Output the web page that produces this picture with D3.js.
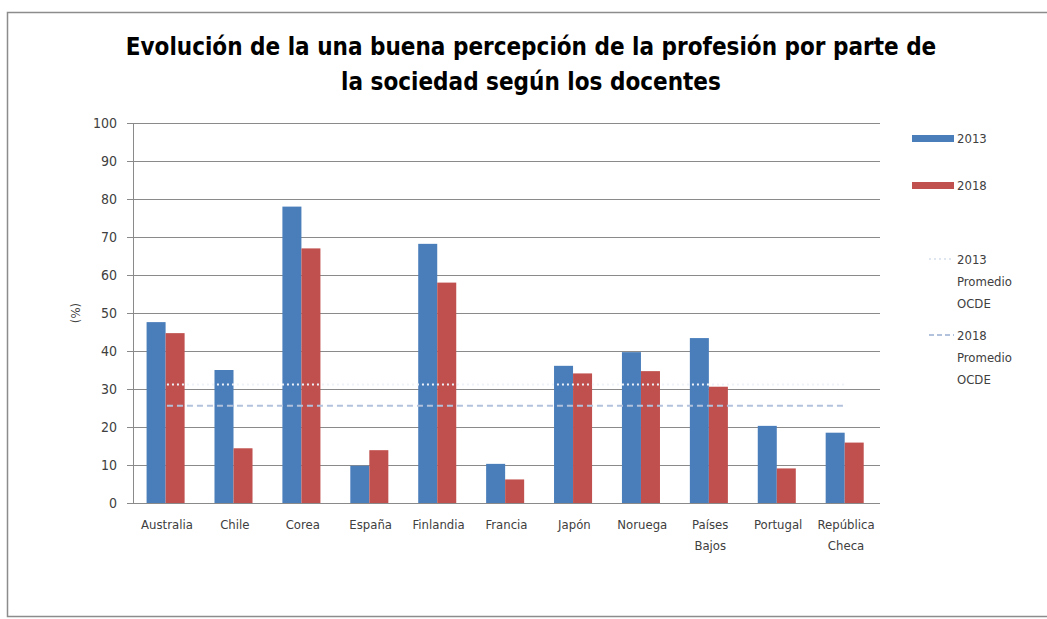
<!DOCTYPE html>
<html>
<head>
<meta charset="utf-8">
<script src="https://cdn.jsdelivr.net/npm/d3@7"></script>
<style>
  body { margin: 0; background: #fff; }
  text { font-family: "Liberation Sans Narrow", "DejaVu Sans Condensed", "Open Sans", sans-serif; }
</style>
</head>
<body>
<div id="chart"></div>
<script>
var countries = ['Australia', 'Chile', 'Corea', 'España', 'Finlandia', 'Francia', 'Japón', 'Noruega', 'Países Bajos', 'Portugal', 'República Checa'];
var values2013 = [47.6, 35.0, 78.0, 9.8, 68.2, 10.3, 36.1, 39.7, 43.4, 20.3, 18.5];
var values2018 = [44.7, 14.4, 67.0, 13.9, 58.0, 6.2, 34.1, 34.7, 30.6, 9.1, 15.9];
var avg2013 = 31.2;
var avg2018 = 25.6;
var yTicks = [0, 10, 20, 30, 40, 50, 60, 70, 80, 90, 100];
var seriesNames = ['2013', '2018'];
var titleLines = ['Evolución de la una buena percepción de la profesión por parte de', 'la sociedad según los docentes'];

var W = 1047, H = 619;
var margin = { top: 123, left: 133, bottom: 116, right: 167 },
    width = W - margin.left - margin.right,
    height = H - margin.top - margin.bottom;

var svgRoot = d3.select('#chart').append('svg')
    .attr('width', W)
    .attr('height', H);

// outer frame
svgRoot.append('rect')
    .attr('x', 7.5).attr('y', 12.5)
    .attr('width', W).attr('height', 604)
    .attr('fill', 'none')
    .attr('stroke', '#8c8c8c')
    .attr('stroke-width', 1.5);

// title
svgRoot.selectAll('.title')
    .data(titleLines)
    .enter()
    .append('text')
    .attr('class', 'title')
    .attr('x', 531)
    .attr('y', (d, i) => 55 + i * 35)
    .attr('text-anchor', 'middle')
    .attr('font-size', 24)
    .attr('font-weight', 'bold')
    .attr('fill', '#000')
    .text(d => d);

var svg = svgRoot.append('g')
    .attr('transform', 'translate(' + margin.left + ', ' + margin.top + ')');

var x0 = d3.scaleBand()
    .domain(countries)
    .range([0, width]);

var x1 = d3.scaleBand()
    .domain(seriesNames)
    .range([x0.bandwidth() * 0.2, x0.bandwidth() * 0.76]);

var y = d3.scaleLinear()
    .domain([0, 100])
    .range([height, 0]);

// grid
var yAxis = d3.axisLeft(y)
    .tickValues(yTicks)
    .tickSize(-width - 6)
    .tickPadding(10)
    .tickFormat(d3.format('d'));

var gy = svg.append('g')
    .attr('transform', 'translate(-6,0)')
    .call(yAxis);
gy.select('.domain').remove();
gy.selectAll('line').attr('stroke', '#8a8a8a').attr('stroke-width', 1);
gy.selectAll('text')
    .attr('font-size', 14)
    .attr('fill', '#404040')
    .attr('font-family', '"Liberation Sans Narrow", "DejaVu Sans Condensed", sans-serif');

// vertical axis line
svg.append('line')
    .attr('x1', 0.5).attr('x2', 0.5)
    .attr('y1', 0).attr('y2', height)
    .attr('stroke', '#8a8a8a');

var colors = { '2013': '#4a7ebb', '2018': '#c0504d' };
var rows = countries.map((c, i) => ({ c: c, v: { '2013': values2013[i], '2018': values2018[i] } }));

var groups = svg.selectAll('.grp')
    .data(rows)
    .enter()
    .append('g')
    .attr('class', 'grp')
    .attr('transform', d => 'translate(' + x0(d.c) + ',0)');

groups.selectAll('rect')
    .data(d => seriesNames.map(s => ({ s: s, v: d.v[s] })))
    .enter()
    .append('rect')
    .attr('x', d => x1(d.s))
    .attr('y', d => y(d.v))
    .attr('width', x1.bandwidth())
    .attr('height', d => height - y(d.v))
    .attr('fill', d => colors[d.s]);

// OECD averages
var xFirst = x0(countries[0]) + x0.bandwidth() / 2;
var xLast = x0(countries[countries.length - 1]) + x0.bandwidth() / 2;

svg.append('line')
    .attr('x1', xFirst).attr('x2', xLast)
    .attr('y1', y(avg2013)).attr('y2', y(avg2013))
    .attr('stroke', '#eef3fa')
    .attr('stroke-width', 2)
    .attr('stroke-dasharray', '2,3');

svg.append('line')
    .attr('x1', xFirst).attr('x2', xLast)
    .attr('y1', y(avg2018)).attr('y2', y(avg2018))
    .attr('stroke', '#b3c2dc')
    .attr('stroke-width', 2)
    .attr('stroke-dasharray', '6,4');

// category labels
var xl = svg.selectAll('.xlab')
    .data(countries)
    .enter()
    .append('text')
    .attr('class', 'xlab')
    .attr('x', d => x0(d) + x0.bandwidth() / 2)
    .attr('y', height + 26)
    .attr('text-anchor', 'middle')
    .attr('font-size', 13)
    .attr('fill', '#404040');

xl.each(function (d) {
    var parts = d.indexOf(' ') > 0 ? [d.slice(0, d.indexOf(' ')), d.slice(d.indexOf(' ') + 1)] : [d];
    var t = d3.select(this);
    parts.forEach((p, i) => {
        t.append('tspan')
            .attr('x', x0(d) + x0.bandwidth() / 2)
            .attr('dy', i === 0 ? 0 : 21)
            .text(p);
    });
});

// y label
svgRoot.append('text')
    .attr('transform', 'translate(80,' + (margin.top + y(50)) + ') rotate(-90)')
    .attr('text-anchor', 'middle')
    .attr('font-size', 13)
    .attr('fill', '#404040')
    .text('(%)');

// legend
var legend = svgRoot.append('g');
var legendItems = [
    { lines: ['2013'], y: 138, type: 'bar', color: colors['2013'] },
    { lines: ['2018'], y: 185, type: 'bar', color: colors['2018'] },
    { lines: ['2013', 'Promedio', 'OCDE'], y: 259, type: 'dot', color: '#dfe6f0' },
    { lines: ['2018', 'Promedio', 'OCDE'], y: 335, type: 'dash', color: '#b3c2dc' }
];

legendItems.forEach(it => {
    if (it.type === 'bar') {
        legend.append('rect')
            .attr('x', 912).attr('y', it.y - 3)
            .attr('width', 42).attr('height', 7)
            .attr('fill', it.color);
    } else {
        legend.append('line')
            .attr('x1', 929).attr('x2', 954)
            .attr('y1', it.y).attr('y2', it.y)
            .attr('stroke', it.color)
            .attr('stroke-width', 2)
            .attr('stroke-dasharray', it.type === 'dot' ? '2,3' : '5,3');
    }
    legend.append('text')
        .attr('x', 957)
        .attr('y', it.y + 5)
        .attr('font-size', 13)
        .attr('fill', '#404040')
        .selectAll('tspan')
        .data(it.lines)
        .enter()
        .append('tspan')
        .attr('x', 957)
        .attr('dy', (d, i) => i === 0 ? 0 : 22)
        .text(d => d);
});
</script>
</body>
</html>
